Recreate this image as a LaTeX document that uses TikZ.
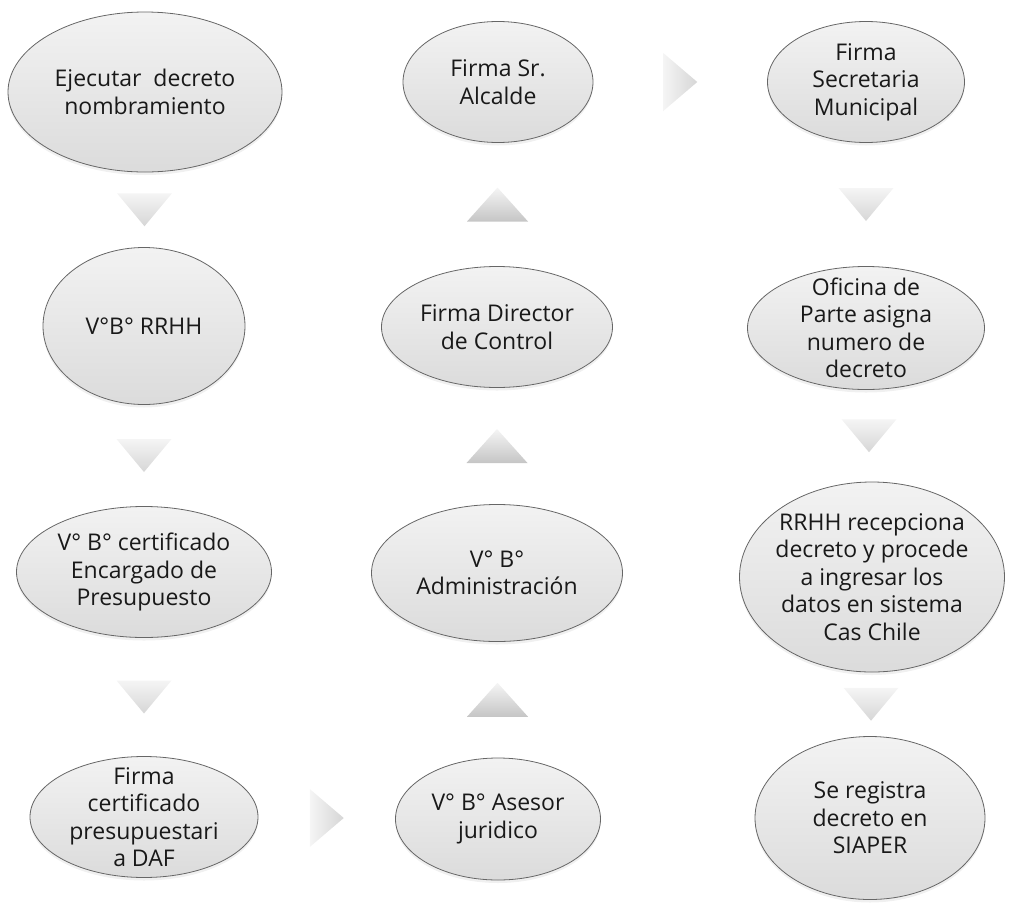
\documentclass[tikz,border=0pt]{standalone}
\usepackage{fontspec}
\setmainfont{Open Sans}
\usetikzlibrary{calc,shapes.geometric,shadows}
\definecolor{ellline}{gray}{0.40}
\definecolor{ellhi}{gray}{0.95}
\definecolor{elllo}{gray}{0.86}
\definecolor{arrhi}{gray}{0.96}
\definecolor{arrlo}{gray}{0.84}
\tikzset{
  stepell/.style={ellipse,draw=ellline,line width=0.8pt,inner sep=0pt,
                  top color=ellhi,bottom color=elllo,
                  drop shadow={shadow xshift=0pt,shadow yshift=-3pt,opacity=0.12}},
  txt/.style={align=center,inner sep=0pt,text=black!90,
              font=\fontsize{23}{27.5}\selectfont},
  downarr/.pic={\path[top color=arrhi,bottom color=arrlo]
                (-27.5pt,16.5pt) -- (27.5pt,16.5pt) -- (0pt,-16.5pt) -- cycle;},
  uparr/.pic={\path[top color=arrhi,bottom color=arrlo!92!black]
              (-30.5pt,-17pt) -- (30.5pt,-17pt) -- (0pt,17pt) -- cycle;},
  rightarr/.pic={\path[left color=arrhi,right color=arrlo]
                 (-17pt,29pt) -- (17pt,0pt) -- (-17pt,-29pt) -- cycle;},
}

\begin{document}
\begin{tikzpicture}[x=1pt,y=-1pt]
\useasboundingbox (0,0) rectangle (1010,919);

% first column, going down
\node[stepell,minimum width=274,minimum height=160,
      label={[txt]center:{Ejecutar\ \ decreto\\nombramiento}}] (ejec) at (145,92) {};
\node[stepell,minimum width=202,minimum height=157,
      label={[txt]center:{V°B° RRHH}}] (vbrrhh) at (144,326) {};
\node[stepell,minimum width=255,minimum height=131,
      label={[txt]center:{V° B° certificado\\Encargado de\\Presupuesto}}] (vbcert) at (144,572) {};
\node[stepell,minimum width=228,minimum height=121,
      label={[txt]center:{Firma\\certificado\\presupuestari\\a DAF}}] (firmcert) at (144,817) {};

% second column, going up
\node[stepell,minimum width=205,minimum height=122,
      label={[txt]center:{V° B° Asesor\\juridico}}] (asesor) at (498,819) {};
\node[stepell,minimum width=251,minimum height=137,
      label={[txt]center:{V° B°\\Administración}}] (admin) at (497,573) {};
\node[stepell,minimum width=231,minimum height=121,
      label={[txt]center:{Firma Director\\de Control}}] (control) at (497,327) {};
\node[stepell,minimum width=190,minimum height=121,
      label={[txt]center:{Firma Sr.\\Alcalde}}] (alcalde) at (498,82) {};

% third column, going down
\node[stepell,minimum width=197,minimum height=121,
      label={[txt]center:{Firma\\Secretaria\\Municipal}}] (secret) at (866,82) {};
\node[stepell,minimum width=237,minimum height=123,
      label={[txt]center:{Oficina de\\Parte asigna\\numero de\\decreto}}] (partes) at (866,328) {};
\node[stepell,minimum width=265,minimum height=190,
      label={[txt]center:{RRHH recepciona\\decreto y procede\\a ingresar los\\datos en sistema\\Cas Chile}}] (recep) at (872,577) {};
\node[stepell,minimum width=230,minimum height=163,
      label={[txt]center:{Se registra\\decreto en\\SIAPER}}] (siaper) at (870,818) {};

% chevrons between the steps
\pic at ($(ejec.south)!0.5!(vbrrhh.north)$) {downarr};
\pic at ($(vbrrhh.south)!0.5!(vbcert.north)$) {downarr};
\pic at ($(vbcert.south)!0.5!(firmcert.north)$) {downarr};
\pic at ($(firmcert.east)!0.5!(asesor.west)$) {rightarr};
\pic at ($(asesor.north)!0.5!(admin.south)$) {uparr};
\pic at ($(admin.north)!0.5!(control.south)$) {uparr};
\pic at ($(control.north)!0.5!(alcalde.south)$) {uparr};
\pic at ($(alcalde.east)!0.5!(secret.west)$) {rightarr};
\pic at ($(secret.south)!0.5!(partes.north)$) {downarr};
\pic at ($(partes.south)!0.5!(recep.north)$) {downarr};
\pic at ($(recep.south)!0.5!(siaper.north)$) {downarr};

\end{tikzpicture}
\end{document}
